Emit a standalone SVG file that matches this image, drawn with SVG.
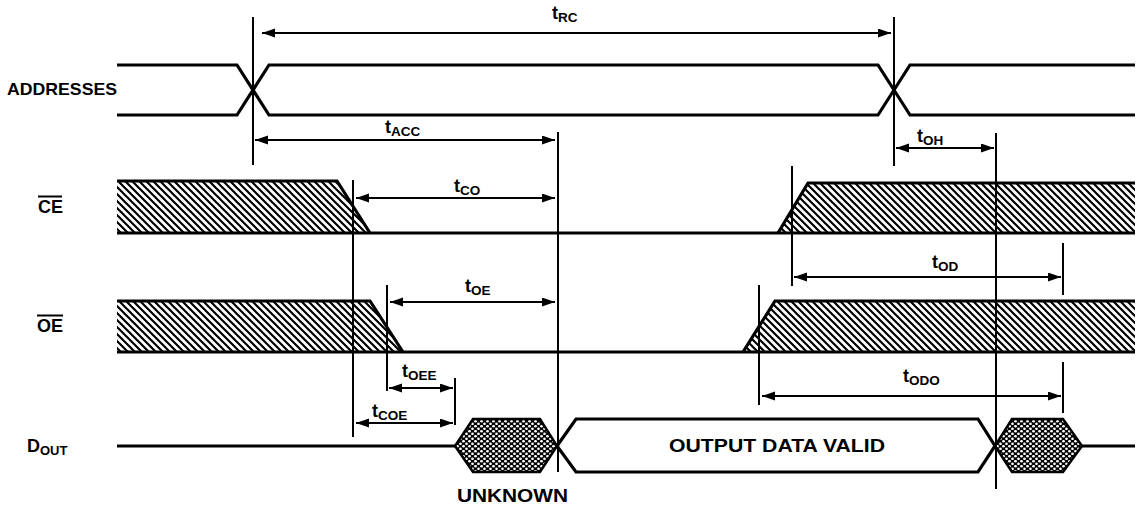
<svg xmlns="http://www.w3.org/2000/svg" width="1142" height="508" viewBox="0 0 1142 508">
<style>
.sig{fill:none;stroke:#000;stroke-width:3.2;stroke-linejoin:miter}
.hatch{fill:url(#hatch);stroke:none}
.dots{fill:url(#dots);stroke:#000;stroke-width:2.5}
.valid{fill:#fff;stroke:#000;stroke-width:3.2}
.ref{stroke:#000;stroke-width:2;fill:none}
.dim{stroke:#000;stroke-width:2;fill:none;marker-start:url(#ah);marker-end:url(#ah)}
.lbl{font-family:"Liberation Sans",Arial,sans-serif;font-weight:bold;fill:#000}
.t{font-family:"Liberation Sans",Arial,sans-serif;font-weight:bold;font-size:18px;fill:#000}
.sub{font-size:13.5px}
</style>
<defs>
<pattern id="hatch" patternUnits="userSpaceOnUse" width="7" height="7">
<rect width="7" height="7" fill="#fff"/>
<path d="M-1,-1 L8,8 M-1,6 L1,8 M6,-1 L8,1" stroke="#000" stroke-width="2.2"/>
</pattern>
<pattern id="dots" patternUnits="userSpaceOnUse" width="6" height="5">
<rect width="6" height="5" fill="#000"/>
<circle cx="1.5" cy="1.25" r="1.35" fill="#fff"/>
<circle cx="4.5" cy="3.75" r="1.35" fill="#fff"/>
</pattern>
<marker id="ah" markerUnits="userSpaceOnUse" markerWidth="14" markerHeight="10" refX="13" refY="4.5" orient="auto-start-reverse">
<path d="M0,0 L13,4.5 L0,9 Z" fill="#000"/>
</marker>
</defs>

<g id="labels">
<text class="lbl" x="7" y="95" font-size="17" textLength="110" lengthAdjust="spacingAndGlyphs">ADDRESSES</text>
<g id="ce-label">
<text class="lbl" x="38" y="213" font-size="18">CE</text>
<line x1="38" y1="196.5" x2="62" y2="196.5" stroke="#000" stroke-width="2"/>
</g>
<g id="oe-label">
<text class="lbl" x="37" y="332" font-size="18">OE</text>
<line x1="37" y1="315.5" x2="63" y2="315.5" stroke="#000" stroke-width="2"/>
</g>
<text class="lbl" x="27" y="452" font-size="18">D<tspan font-size="13" dy="3">OUT</tspan></text>
</g>

<g id="addresses">
<path class="sig" d="M117,65 H237 L269,115 H878 L910,65 H1135"/>
<path class="sig" d="M117,115 H237 L269,65 H878 L910,115 H1135"/>
</g>

<g id="ce">
<polygon class="hatch" points="117,181 337,181 370,233 117,233"/>
<polygon class="hatch" points="778,233 808,183 1135,183 1135,233"/>
<path class="sig" d="M117,181 H337 L370,233"/>
<path class="sig" d="M778,233 L808,183 H1135"/>
<path class="sig" d="M117,233 H1135"/>
</g>

<g id="oe">
<polygon class="hatch" points="117,301 370,301 403,352 117,352"/>
<polygon class="hatch" points="743,352 775,301 1135,301 1135,352"/>
<path class="sig" d="M117,301 H370 L403,352"/>
<path class="sig" d="M743,352 L775,301 H1135"/>
<path class="sig" d="M117,352 H1135"/>
</g>

<g id="dout">
<path class="sig" d="M117,446 H455"/>
<polygon class="dots" points="455,446 473,419 540,419 557,446 540,472 473,472"/>
<polygon class="valid" points="557,446 576,419 978,419 995,446 978,472 576,472"/>
<polygon class="dots" points="995,446 1012,419 1063,419 1082,446 1063,472 1012,472"/>
<path class="sig" d="M1082,446 H1135"/>
<text class="lbl" x="669" y="452" font-size="18" textLength="216" lengthAdjust="spacingAndGlyphs">OUTPUT DATA VALID</text>
<text class="lbl" x="457" y="502" font-size="19" textLength="111" lengthAdjust="spacingAndGlyphs">UNKNOWN</text>
</g>

<g id="connectors">
<line class="ref" x1="253" y1="17" x2="253" y2="165"/>
<line class="ref" x1="894" y1="17" x2="894" y2="166"/>
<line class="ref" x1="558" y1="132" x2="558" y2="472"/>
<line class="ref" x1="996" y1="133" x2="996" y2="489"/>
<line class="ref" x1="353" y1="180" x2="353" y2="437"/>
<line class="ref" x1="792" y1="166" x2="792" y2="286"/>
<line class="ref" x1="1063" y1="243" x2="1063" y2="295"/>
<line class="ref" x1="1063" y1="362" x2="1063" y2="413"/>
<line class="ref" x1="387" y1="285" x2="387" y2="391"/>
<line class="ref" x1="455" y1="378" x2="455" y2="425"/>
<line class="ref" x1="759" y1="285" x2="759" y2="405"/>

<line class="dim" x1="262" y1="33" x2="891" y2="33"/>
<line class="dim" x1="255" y1="140" x2="555" y2="140"/>
<line class="dim" x1="896" y1="148" x2="994" y2="148"/>
<line class="dim" x1="356" y1="198" x2="555" y2="198"/>
<line class="dim" x1="794" y1="277" x2="1061" y2="277"/>
<line class="dim" x1="390" y1="302" x2="555" y2="302"/>
<line class="dim" x1="389" y1="388" x2="453" y2="388"/>
<line class="dim" x1="762" y1="396" x2="1061" y2="396"/>
<line class="dim" x1="356" y1="423" x2="453" y2="423"/>

<text class="t" x="552" y="19">t<tspan class="sub" dy="3">RC</tspan></text>
<text class="t" x="385" y="133">t<tspan class="sub" dy="3">ACC</tspan></text>
<text class="t" x="917" y="142">t<tspan class="sub" dy="3">OH</tspan></text>
<text class="t" x="454" y="192">t<tspan class="sub" dy="3">CO</tspan></text>
<text class="t" x="932" y="268">t<tspan class="sub" dy="3">OD</tspan></text>
<text class="t" x="465" y="292">t<tspan class="sub" dy="3">OE</tspan></text>
<text class="t" x="402" y="377">t<tspan class="sub" dy="3">OEE</tspan></text>
<text class="t" x="903" y="382">t<tspan class="sub" dy="3">ODO</tspan></text>
<text class="t" x="372" y="417">t<tspan class="sub" dy="3">COE</tspan></text>
</g>
</svg>
